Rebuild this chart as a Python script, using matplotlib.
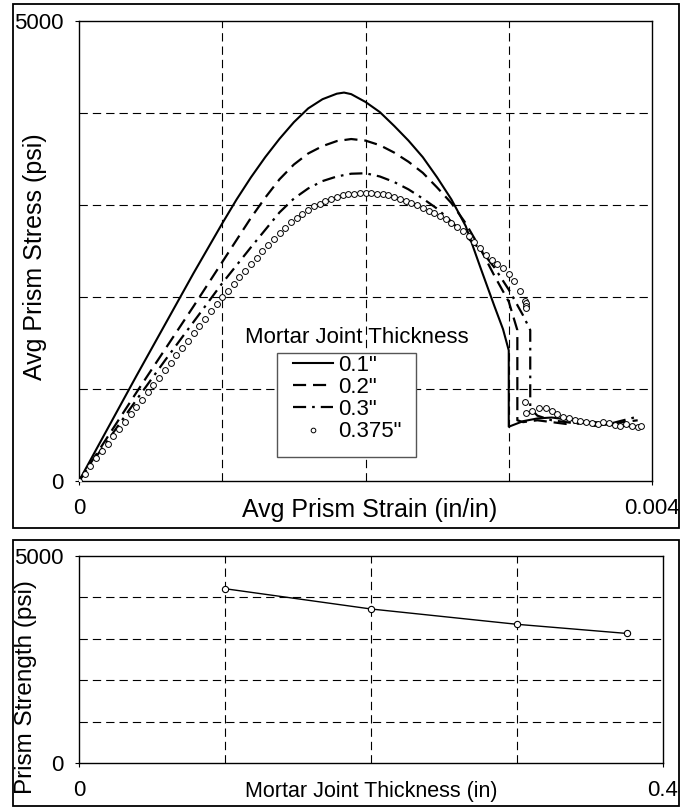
import matplotlib
matplotlib.use("Agg")
import matplotlib.pyplot as plt
from matplotlib.patches import Rectangle

plt.rcParams['font.family'] = ['Liberation Sans', 'DejaVu Sans']

# ---------------- data ----------------
strain_01 = [0, 0.0002, 0.0004, 0.0006, 0.0008, 0.0010, 0.0011, 0.0012, 0.0013, 0.0014,
             0.0015, 0.0016, 0.0017, 0.0018, 0.00185, 0.0019, 0.0020, 0.0021, 0.0022, 0.0023,
             0.0024, 0.0025, 0.0026, 0.0027, 0.0028, 0.0029, 0.00296, 0.0030, 0.0030, 0.00305,
             0.0031, 0.0032, 0.0033, 0.0034, 0.0035, 0.0036, 0.0037, 0.0038, 0.0039]
stress_01 = [0, 570, 1140, 1700, 2260, 2800, 3060, 3300, 3520, 3720,
             3900, 4050, 4150, 4210, 4222, 4205, 4120, 4010, 3860, 3700,
             3520, 3300, 3060, 2770, 2330, 1900, 1650, 1420, 590, 620,
             650, 680, 690, 670, 650, 630, 610, 600, 590]

strain_02 = [0, 0.0002, 0.0004, 0.0006, 0.0008, 0.0010, 0.0011, 0.0012, 0.0013, 0.0014,
             0.0015, 0.0016, 0.0017, 0.0018, 0.0019, 0.0020, 0.0021, 0.0022, 0.0023, 0.0024,
             0.0025, 0.0026, 0.0027, 0.0028, 0.0029, 0.0030, 0.00306, 0.00306, 0.0031, 0.0032,
             0.0033, 0.0034, 0.0035, 0.0036, 0.0037, 0.0038, 0.0039]
stress_02 = [0, 480, 960, 1430, 1900, 2380, 2620, 2860, 3080, 3280,
             3440, 3560, 3640, 3695, 3717, 3700, 3650, 3570, 3470, 3350,
             3190, 3020, 2800, 2530, 2230, 1950, 1640, 660, 640, 660,
             640, 620, 640, 600, 620, 640, 660]

strain_03 = [0, 0.0002, 0.0004, 0.0006, 0.0008, 0.0010, 0.0012, 0.0013, 0.0014, 0.0015,
             0.0016, 0.0017, 0.0018, 0.0019, 0.0020, 0.0021, 0.0022, 0.0023, 0.0024, 0.0025,
             0.0026, 0.0027, 0.0028, 0.0029, 0.0030, 0.0031, 0.00315, 0.00315, 0.0032, 0.0033,
             0.0034, 0.0035, 0.0036, 0.0037, 0.0038, 0.0039]
stress_03 = [0, 440, 880, 1310, 1730, 2150, 2540, 2730, 2920, 3070,
             3180, 3260, 3310, 3340, 3345, 3310, 3250, 3170, 3070, 2960,
             2820, 2660, 2520, 2320, 2080, 1800, 1640, 790, 710, 660,
             640, 620, 640, 620, 660, 700]

strain_0375 = [0.00000, 0.00004, 0.00008, 0.00012, 0.00016, 0.00020, 0.00024, 0.00028, 0.00032, 0.00036,
               0.00040, 0.00044, 0.00048, 0.00052, 0.00056, 0.00060, 0.00064, 0.00068, 0.00072, 0.00076,
               0.00080, 0.00084, 0.00088, 0.00092, 0.00096, 0.00100, 0.00104, 0.00108, 0.00112, 0.00116,
               0.00120, 0.00124, 0.00128, 0.00132, 0.00136, 0.00140, 0.00144, 0.00148, 0.00152, 0.00156,
               0.00160, 0.00164, 0.00168, 0.00172, 0.00176, 0.00180, 0.00184, 0.00188, 0.00192, 0.00196,
               0.00200, 0.00204, 0.00208, 0.00212, 0.00216, 0.00220, 0.00224, 0.00228, 0.00232, 0.00236,
               0.00240, 0.00244, 0.00248, 0.00252, 0.00256, 0.00260, 0.00264, 0.00268, 0.00272, 0.00276,
               0.00280, 0.00284, 0.00288, 0.00292, 0.00296, 0.00300, 0.00304, 0.00308, 0.00311, 0.00312,
               0.00312, 0.00312, 0.00311, 0.00312, 0.00316, 0.00321, 0.00326, 0.00330, 0.00334, 0.00338,
               0.00342, 0.00346, 0.00350, 0.00354, 0.00358, 0.00362, 0.00366, 0.00370, 0.00374, 0.00378,
               0.00382, 0.00386, 0.00390, 0.00392]
stress_0375 = [0, 80, 160, 245, 325, 405, 485, 565, 645, 725,
               805, 885, 965, 1045, 1125, 1205, 1285, 1365, 1445, 1525,
               1605, 1685, 1765, 1845, 1920, 1995, 2070, 2145, 2215, 2285,
               2355, 2425, 2495, 2565, 2630, 2695, 2755, 2810, 2860, 2905,
               2950, 2985, 3015, 3045, 3070, 3090, 3105, 3115, 3125, 3130,
               3132, 3130, 3125, 3115, 3105, 3090, 3070, 3045, 3020, 2995,
               2970, 2940, 2910, 2880, 2845, 2805, 2765, 2715, 2660, 2600,
               2530, 2460, 2400, 2360, 2310, 2250, 2170, 2070, 1960, 1930,
               1900, 1880, 860, 740, 760, 790, 790, 760, 730, 700,
               680, 660, 650, 640, 630, 620, 640, 630, 610, 600,
               620, 600, 590, 600]

series_labels = ['0.1"', '0.2"', '0.3"', '0.375"']
legend_title = "Mortar Joint Thickness"

thickness = [0.1, 0.2, 0.3, 0.375]
strength = [4210, 3720, 3350, 3130]

# ---------------- figure ----------------
W, H = 688, 808
fig = plt.figure(figsize=(W / 100, H / 100), dpi=100)

def fx(px):
    return px / W

def fy(py):
    return 1 - py / H

# chart frames
fig.patches.append(Rectangle((fx(13), fy(528)), fx(679) - fx(13), fy(4) - fy(528),
                             transform=fig.transFigure, fill=False, ec='black', lw=1.3))
fig.patches.append(Rectangle((fx(13), fy(806)), fx(679) - fx(13), fy(540) - fy(806),
                             transform=fig.transFigure, fill=False, ec='black', lw=1.3))

grid_kw = dict(color='black', lw=0.8, linestyle=(0, (7.5, 4.5)), zorder=1)
TICK_FS = 16
LEG_FS = 16

# ---------- top axes ----------
ax1 = fig.add_axes([fx(79), fy(481), fx(652) - fx(79), fy(21) - fy(481)])
ax1.set_xlim(0, 0.004)
ax1.set_ylim(0, 5000)
for v in [0.001, 0.002, 0.003]:
    ax1.axvline(v, **grid_kw)
for h in [1000, 2000, 3000, 4000]:
    ax1.axhline(h, **grid_kw)

l1, = ax1.plot(strain_01, stress_01, color='black', lw=1.5, zorder=3)
l2, = ax1.plot(strain_02, stress_02, color='black', lw=1.6, linestyle=(0, (5.9, 3.1)), zorder=3)
l3, = ax1.plot(strain_03, stress_03, color='black', lw=1.6, linestyle=(0, (5.9, 2.7, 1.2, 2.7)), zorder=3)
l4, = ax1.plot(strain_0375, stress_0375, linestyle='none', marker='o', ms=4.2, mfc='white',
               mec='black', mew=0.7, zorder=4)

ax1.set_xticks([0, 0.004])
ax1.set_xticklabels(['0', '0.004'])
ax1.set_yticks([0, 5000])
ax1.set_yticklabels(['0', '5000'])
ax1.tick_params(axis='x', direction='out', length=3, width=0.8, pad=9, labelsize=TICK_FS)
ax1.tick_params(axis='y', direction='out', length=3, width=0.8, pad=8, labelsize=TICK_FS)
for s in ax1.spines.values():
    s.set_linewidth(1.0)
ax1.set_xlabel('Avg Prism Strain (in/in)', fontsize=18)
ax1.xaxis.label.set_va('center')
ax1.xaxis.set_label_coords(0.508, -0.063)
ax1.set_ylabel('Avg Prism Stress (psi)', fontsize=18)
ax1.yaxis.label.set_va('center')
ax1.yaxis.set_label_coords(-0.0768, 0.487)

# legend box (drawn as a white rectangle) and entries
ax1.add_patch(Rectangle((fx(277), fy(457)), fx(416) - fx(277), fy(353) - fy(457),
                        transform=fig.transFigure, fc='white', ec='#555555', lw=1.0, zorder=4.5))
leg = ax1.legend([l1, l2, l3, l4], series_labels, loc='upper left',
                 bbox_to_anchor=(fx(293), fy(355)), bbox_transform=fig.transFigure,
                 fontsize=LEG_FS, frameon=False, handlelength=1.8, handletextpad=0.25,
                 labelspacing=0.05, borderpad=0, borderaxespad=0, markerscale=0.8)
leg.set_zorder(5)
ax1.text(fx(357), fy(337), legend_title, transform=fig.transFigure, ha='center', va='center',
         fontsize=LEG_FS, zorder=6)

# ---------- bottom axes ----------
ax2 = fig.add_axes([fx(79), fy(763), fx(663) - fx(79), fy(556) - fy(763)])
ax2.set_xlim(0, 0.4)
ax2.set_ylim(0, 5000)
for v in [0.1, 0.2, 0.3]:
    ax2.axvline(v, **grid_kw)
for h in [1000, 2000, 3000, 4000]:
    ax2.axhline(h, **grid_kw)
ax2.plot(thickness, strength, color='black', lw=1.0, marker='o', ms=4.5, mfc='white',
         mec='black', mew=0.8, zorder=3)
ax2.set_xticks([0, 0.4])
ax2.set_xticklabels(['0', '0.4'])
ax2.set_yticks([0, 5000])
ax2.set_yticklabels(['0', '5000'])
ax2.tick_params(axis='x', direction='out', length=3, width=0.8, pad=9, labelsize=TICK_FS)
ax2.tick_params(axis='y', direction='out', length=3, width=0.8, pad=8, labelsize=TICK_FS)
for s in ax2.spines.values():
    s.set_linewidth(1.0)
ax2.set_xlabel('Mortar Joint Thickness (in)', fontsize=15.5)
ax2.xaxis.label.set_va('center')
ax2.xaxis.set_label_coords(0.5, -0.14)
ax2.set_ylabel('Prism Strength (psi)', fontsize=17.5)
ax2.yaxis.label.set_va('center')
ax2.yaxis.set_label_coords(-0.0908, 0.365)

fig.savefig('out.png', dpi=100)
